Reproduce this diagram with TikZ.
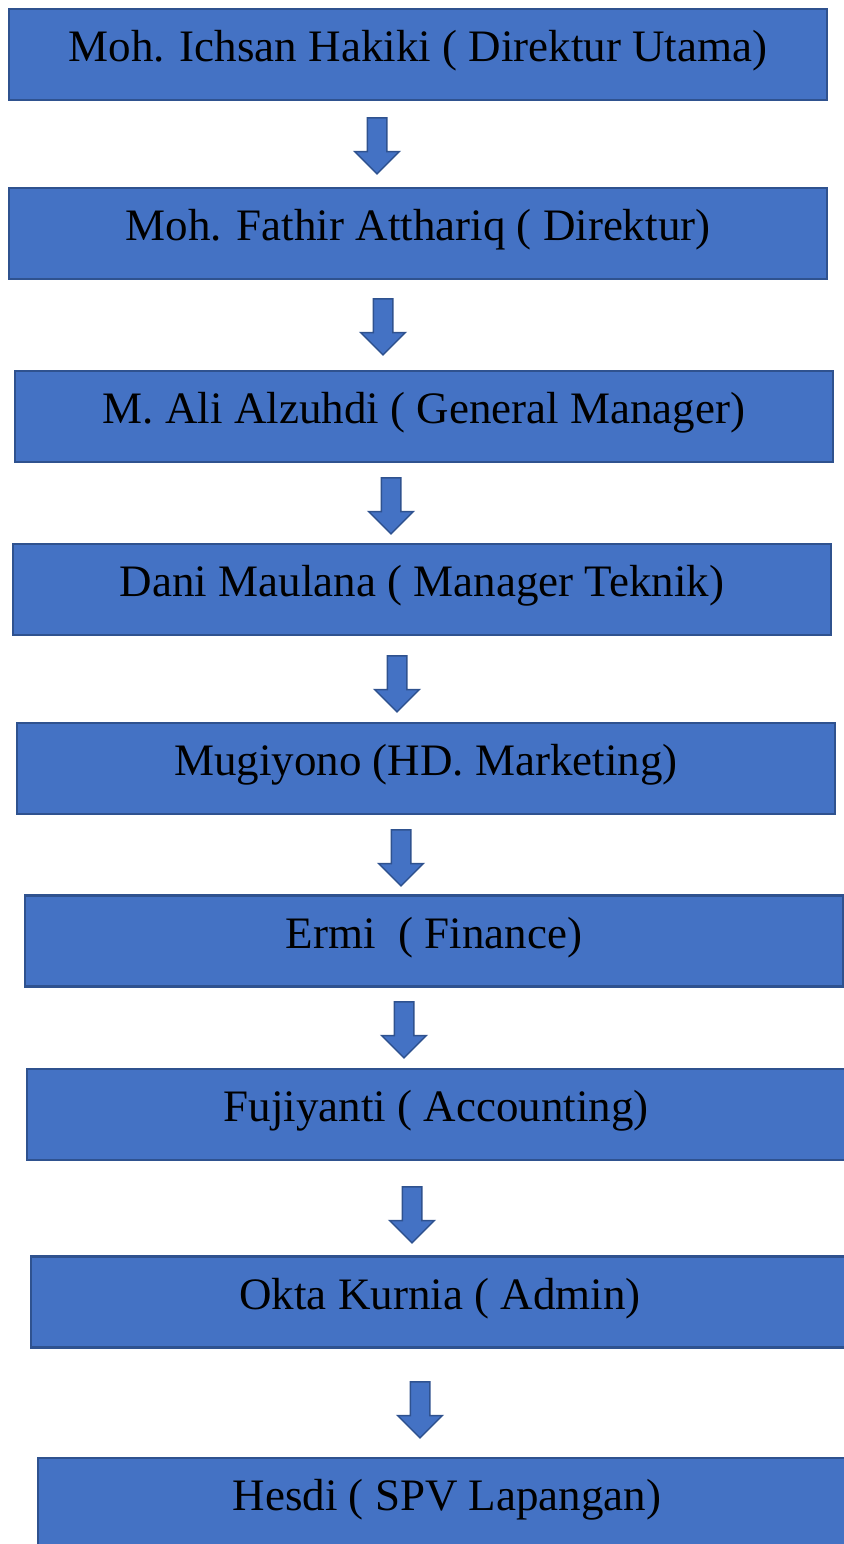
\documentclass[tikz,border=0pt]{standalone}
\usepackage{fontspec}
\setmainfont{Liberation Serif}
\usetikzlibrary{shapes.arrows}
\definecolor{boxblue}{HTML}{4472C4}
\definecolor{boxline}{HTML}{2F528F}

\begin{document}
\begin{tikzpicture}[
      x=1pt,y=-1pt,
      every node/.style={font=\fontsize{45}{49}\selectfont},
      box/.style={rectangle,draw=boxline,line width=2.5pt,fill=boxblue,
                  minimum width=818pt,minimum height=91pt,inner sep=0pt,
                  text depth=14pt,text height=28pt},
      downarrow/.style={single arrow,draw=boxline,line width=1.5pt,fill=boxblue,
                  shape border rotate=270,minimum height=56pt,inner sep=9pt,
                  single arrow head extend=12.5pt}
  ]
  \useasboundingbox (0,0) rectangle (843,1544);

  % ===================== jabatan =====================
  \node[box] (dirut) at (418,54.5)   {Moh. Ichsan Hakiki ( Direktur Utama)};
  \node[box] (dir)   at (418,233.5)  {Moh. Fathir Atthariq ( Direktur)};
  \node[box] (gm)    at (424,416.5)  {M. Ali Alzuhdi ( General Manager)};
  \node[box] (mtek)  at (422,589.5)  {Dani Maulana ( Manager Teknik)};
  \node[box] (mkt)   at (426,768.5)  {Mugiyono (HD. Marketing)};
  \node[box] (fin)   at (434,941)    {Ermi \ ( Finance)};
  \node[box] (acc)   at (436,1114.5) {Fujiyanti ( Accounting)};
  \node[box] (adm)   at (440,1302)   {Okta Kurnia ( Admin)};
  \node[box] (spv)   at (447,1503.5) {Hesdi ( SPV Lapangan)};

  % ===================== panah ke bawah =====================
  \node[downarrow] (a1) at (377,141)  {};
  \node[downarrow] (a2) at (383,322)  {};
  \node[downarrow] (a3) at (391,501)  {};
  \node[downarrow] (a4) at (397,679)  {};
  \node[downarrow] (a5) at (401,853)  {};
  \node[downarrow] (a6) at (404,1025) {};
  \node[downarrow] (a7) at (412,1210) {};
  \node[downarrow] (a8) at (420,1405) {};

\end{tikzpicture}
\end{document}
